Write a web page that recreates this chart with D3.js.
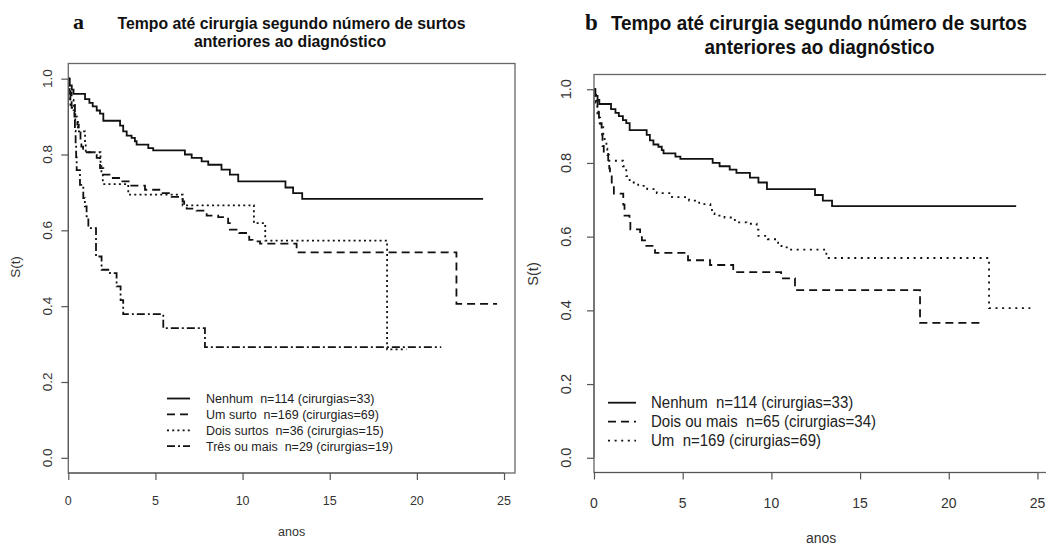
<!DOCTYPE html>
<html>
<head>
<meta charset="utf-8">
<script src="https://cdn.jsdelivr.net/npm/d3@7"></script>
<style>
  body { margin: 0; background: #fff; }
  svg { display: block; }
  text { white-space: pre; }
</style>
</head>
<body>
<svg id="chart" width="1046" height="547"></svg>
<script>
// Kaplan–Meier estimates: step times (anos) and S(t) after each step.
// The last entry of every series marks the end of follow-up.
const nenhumT = [0, 0.08, 0.2, 0.3, 0.96, 1.21, 1.4, 1.63, 1.82, 2.01, 2.97, 3.15, 3.35, 3.63, 3.82, 3.92, 4.59, 4.87, 6.69, 7.08, 7.65, 8.03, 8.79, 9.27, 9.75, 12.46, 12.9, 13.42, 23.8];
const nenhumS = [1, 0.982, 0.971, 0.96, 0.946, 0.936, 0.927, 0.916, 0.908, 0.889, 0.876, 0.861, 0.85, 0.844, 0.835, 0.826, 0.817, 0.811, 0.8, 0.791, 0.782, 0.773, 0.76, 0.747, 0.729, 0.713, 0.698, 0.683, 0.683];

const umT = [0, 0.05, 0.1, 0.19, 0.35, 0.52, 0.6, 0.7, 0.75, 0.85, 1.63, 1.82, 2.01, 2.49, 3.0, 3.54, 4.4, 5.36, 5.93, 6.56, 6.65, 6.79, 7.36, 7.94, 8.6, 9.17, 9.27, 9.8, 10.38, 10.57, 11.0, 13.1, 22.27, 24.6];
const umS = [1, 0.982, 0.964, 0.923, 0.9, 0.879, 0.861, 0.839, 0.821, 0.806, 0.791, 0.764, 0.747, 0.738, 0.729, 0.718, 0.707, 0.698, 0.688, 0.676, 0.663, 0.657, 0.652, 0.639, 0.635, 0.619, 0.602, 0.593, 0.575, 0.571, 0.565, 0.542, 0.406, 0.406];

const doisT = [0, 0.05, 0.1, 0.3, 0.4, 0.55, 0.96, 1.0, 1.85, 1.9, 1.98, 3.44, 6.56, 10.65, 11.3, 18.29, 19.4];
const doisS = [1, 0.972, 0.944, 0.917, 0.889, 0.861, 0.833, 0.806, 0.778, 0.75, 0.722, 0.694, 0.666, 0.619, 0.573, 0.286, 0.286];

const tresT = [0, 0.05, 0.12, 0.38, 0.42, 0.45, 0.48, 0.67, 0.86, 0.95, 1.05, 1.15, 1.59, 1.91, 2.39, 2.77, 3.0, 3.15, 5.45, 7.84, 21.4];
const tresS = [1, 0.966, 0.931, 0.862, 0.828, 0.793, 0.759, 0.72, 0.685, 0.663, 0.637, 0.606, 0.531, 0.496, 0.487, 0.452, 0.416, 0.379, 0.342, 0.292, 0.292];

const doisMaisT = [0, 0.05, 0.12, 0.2, 0.25, 0.28, 0.32, 0.43, 0.45, 0.48, 0.55, 0.8, 0.86, 0.9, 1.0, 1.12, 1.65, 1.72, 2.0, 2.05, 2.6, 2.7, 2.95, 3.44, 5.3, 6.54, 7.85, 10.55, 11.33, 18.38, 21.76];
const doisMaisS = [1, 0.985, 0.969, 0.954, 0.938, 0.923, 0.908, 0.892, 0.877, 0.846, 0.831, 0.8, 0.785, 0.769, 0.74, 0.717, 0.687, 0.657, 0.641, 0.62, 0.605, 0.59, 0.575, 0.556, 0.536, 0.523, 0.504, 0.487, 0.455, 0.366, 0.366];

const titleLines = ["Tempo até cirurgia segundo número de surtos", "anteriores ao diagnóstico"];
const legendA = ["Nenhum  n=114 (cirurgias=33)", "Um surto  n=169 (cirurgias=69)", "Dois surtos  n=36 (cirurgias=15)", "Três ou mais  n=29 (cirurgias=19)"];
const legendB = ["Nenhum  n=114 (cirurgias=33)", "Dois ou mais  n=65 (cirurgias=34)", "Um  n=169 (cirurgias=69)"];
const xTicks = [0, 5, 10, 15, 20, 25];
const yTicks = [0, 0.2, 0.4, 0.6, 0.8, 1.0];
const xLabel = "anos";
const yLabel = "S(t)";

const SANS = "'Liberation Sans', Arial, sans-serif";
const SERIF = "'Liberation Serif', 'Times New Roman', serif";

const svg = d3.select("#chart");

// text helper: optional vertical stretch and rotation
function label(g, x, y, str, o) {
  const tr = `translate(${x},${y}) scale(1,${o.sy || 1})` + (o.rot ? " rotate(-90)" : "");
  return g.append("text")
    .attr("transform", tr)
    .attr("text-anchor", o.anchor || "middle")
    .attr("font-family", o.family || SANS)
    .attr("font-size", o.fs)
    .attr("font-weight", o.bold ? "bold" : "normal")
    .attr("fill", o.fill || "#222")
    .text(str);
}

const panels = [
  {
    id: "a",
    box: { l: 68.3, r: 515, t: 63.5, b: 473 },
    xmax: 25.63,
    sy: 1.08,
    tickFs: 12.5, axisFs: 12.5, legFs: 12.5,
    yTickBase: 52, xTickBase: 505, xLabBase: 536, yLabX: 20, yLabY: 267,
    title: { cx1: 291.5, cx2: 290, y1: 29, y2: 47, fs: 15.8, letterX: 73, letterFs: 22 },
    series: [
      { T: nenhumT, S: nenhumS, dash: null },
      { T: umT, S: umS, dash: "8,5" },
      { T: doisT, S: doisS, dash: "2,3.2" },
      { T: tresT, S: tresS, dash: "8,3,2,3" }
    ],
    legend: { texts: legendA, x1: 167, x2: 190, tx: 206, y0: 398.5, dy: 15.9 }
  },
  {
    id: "b",
    box: { l: 594, r: 1048.1, t: 74.5, b: 472.5 },
    xmax: 25.6,
    sy: 1.04,
    tickFs: 14, axisFs: 14, legFs: 15,
    yTickBase: 571, xTickBase: 508, xLabBase: 543, yLabX: 538, yLabY: 274,
    title: { cx1: 819, cx2: 819.5, y1: 30, y2: 54, fs: 18.9, letterX: 585, letterFs: 23 },
    series: [
      { T: nenhumT, S: nenhumS, dash: null },
      { T: doisMaisT, S: doisMaisS, dash: "8,5" },
      { T: umT, S: umS, dash: "2,4.6" }
    ],
    legend: { texts: legendB, x1: 608, x2: 636, tx: 651, y0: 402.7, dy: 19 }
  }
];

panels.forEach(p => {
  const g = svg.append("g");
  const B = p.box;
  // R-style axis extents: y padded 4% either side, x starts at 0
  const x = d3.scaleLinear().domain([0, p.xmax]).range([B.l, B.r]);
  const y = d3.scaleLinear().domain([-0.04, 1.04]).range([B.b, B.t]);

  // title and panel letter
  const T = p.title;
  label(g, T.letterX, T.y1, p.id, { anchor: "start", family: SERIF, fs: T.letterFs, bold: true, fill: "#111" });
  label(g, T.cx1, T.y1, titleLines[0], { fs: T.fs, bold: true, fill: "#111", sy: p.sy });
  label(g, T.cx2, T.y2, titleLines[1], { fs: T.fs, bold: true, fill: "#111", sy: p.sy });

  // curves
  const clipId = "clip-" + p.id;
  g.append("clipPath").attr("id", clipId).append("rect")
    .attr("x", B.l).attr("y", B.t).attr("width", B.r - B.l).attr("height", B.b - B.t);
  const line = d3.line().x(d => x(d[0])).y(d => y(d[1])).curve(d3.curveStepAfter);
  const cg = g.append("g").attr("clip-path", `url(#${clipId})`);
  p.series.forEach(s => {
    cg.append("path")
      .attr("d", line(d3.zip(s.T, s.S)))
      .attr("fill", "none")
      .attr("stroke", "#111")
      .attr("stroke-width", 1.8)
      .attr("stroke-dasharray", s.dash);
  });

  // frame
  g.append("rect")
    .attr("x", B.l).attr("y", B.t).attr("width", B.r - B.l).attr("height", B.b - B.t)
    .attr("fill", "none").attr("stroke", "#666").attr("stroke-width", 1.3);

  // x axis (ticks below the frame)
  const xAxis = d3.axisBottom(x).tickValues(xTicks).tickSize(7).tickFormat("");
  const xa = g.append("g").attr("transform", `translate(0,${B.b})`).call(xAxis);
  xa.select(".domain").attr("stroke", "#555").attr("d", `M${x(0)},0H${x(25)}`);
  xa.selectAll(".tick line").attr("stroke", "#555").attr("stroke-width", 1.2);
  xTicks.forEach(v => label(g, x(v), p.xTickBase, String(v), { fs: p.tickFs, fill: "#333", sy: p.sy }));

  // y axis (ticks left of the frame, labels parallel to the axis)
  const yAxis = d3.axisLeft(y).tickValues(yTicks).tickSize(7).tickFormat("");
  const ya = g.append("g").attr("transform", `translate(${B.l},0)`).call(yAxis);
  ya.select(".domain").attr("stroke", "#555").attr("d", `M0,${y(0)}V${y(1)}`);
  ya.selectAll(".tick line").attr("stroke", "#555").attr("stroke-width", 1.2);
  yTicks.forEach(v => label(g, p.yTickBase, y(v), d3.format(".1f")(v), { fs: p.tickFs, fill: "#333", rot: true, sy: p.sy }));

  // axis titles
  label(g, (B.l + B.r) / 2, p.xLabBase, xLabel, { fs: p.axisFs, fill: "#333", sy: p.sy });
  label(g, p.yLabX, p.yLabY, yLabel, { fs: p.axisFs, fill: "#333", rot: true, sy: p.sy });

  // legend
  const L = p.legend;
  L.texts.forEach((t, i) => {
    const yy = L.y0 + i * L.dy;
    g.append("line")
      .attr("x1", L.x1).attr("x2", L.x2).attr("y1", yy).attr("y2", yy)
      .attr("stroke", "#111").attr("stroke-width", 1.8)
      .attr("stroke-dasharray", p.series[i].dash);
    label(g, L.tx, yy + p.legFs * 0.36, t, { anchor: "start", fs: p.legFs, fill: "#222", sy: p.sy });
  });
});
</script>
</body>
</html>
